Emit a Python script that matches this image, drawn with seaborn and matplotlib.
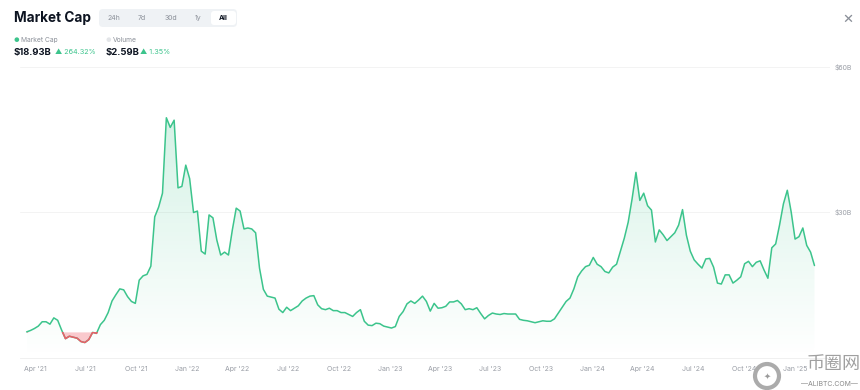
import seaborn as sns
import matplotlib.pyplot as plt
import matplotlib.dates as mdates
import numpy as np
import pandas as pd
from matplotlib.patches import FancyBboxPatch, Rectangle, PathPatch
from matplotlib.transforms import IdentityTransform

# Dados: market cap semanal (bilhões de USD)
inicio = "2021-03-17"
mcap = np.array([
    5.2, 5.5, 5.9, 6.4, 7.3, 7.3, 6.8, 8.1, 7.6, 5.6,
    3.8, 4.3, 4.1, 3.9, 3.2, 3.0, 3.6, 5.1, 4.9, 6.7,
    7.6, 9.2, 11.6, 12.9, 14.1, 13.9, 12.5, 11.5, 11.1, 15.9,
    16.8, 17.1, 18.8, 29.0, 31.0, 33.9, 49.5, 47.5, 49.0, 35.0,
    35.3, 39.7, 36.9, 29.9, 30.2, 21.9, 21.3, 29.4, 28.8, 24.2,
    21.1, 21.7, 21.1, 26.3, 30.8, 30.2, 26.5, 26.7, 26.5, 25.7,
    18.4, 14.0, 12.6, 12.4, 12.2, 9.9, 9.2, 10.3, 9.6, 10.1,
    10.6, 11.6, 12.2, 12.6, 12.7, 10.8, 10.0, 9.8, 10.1, 9.6,
    9.6, 9.2, 9.2, 8.8, 8.4, 9.2, 9.8, 7.4, 6.6, 6.5,
    7.0, 6.9, 6.4, 6.2, 6.0, 6.3, 8.4, 9.4, 11.0, 11.6,
    11.1, 11.8, 12.6, 11.5, 9.5, 11.1, 10.1, 10.2, 10.5, 11.4,
    11.4, 11.7, 11.0, 9.8, 10.0, 9.8, 10.2, 9.0, 7.9, 8.6,
    9.1, 8.9, 8.8, 9.0, 8.9, 8.9, 8.9, 7.8, 7.6, 7.5,
    7.3, 7.1, 7.3, 7.5, 7.4, 7.4, 7.9, 9.1, 10.3, 11.5,
    12.2, 14.1, 16.6, 17.8, 18.7, 19.0, 20.6, 19.2, 18.7, 17.7,
    17.4, 18.6, 19.2, 21.9, 24.6, 27.9, 32.7, 38.2, 32.4, 33.9,
    31.3, 30.4, 23.8, 26.3, 25.3, 24.1, 24.9, 25.7, 27.3, 30.5,
    25.2, 21.9, 20.1, 19.2, 18.4, 20.3, 20.4, 18.6, 15.3, 15.1,
    17.0, 17.0, 15.3, 15.9, 16.6, 19.3, 19.8, 18.7, 19.6, 19.9,
    18.0, 16.3, 22.6, 23.4, 27.3, 31.7, 34.5, 30.0, 24.4, 24.9,
    26.7, 23.1, 21.7, 18.93,
])
datas = pd.date_range(inicio, periods=len(mcap), freq="7D")

abas = ["24h", "7d", "30d", "1y", "All"]
abas_x = [114, 142, 171, 198, 223]
datas_ticks = pd.date_range("2021-04-01", "2025-01-01", freq="QS")
rotulos_ticks = [d.strftime("%b '%y") for d in datas_ticks]
y_ticks = [30, 60]
y_rotulos = ["$30B", "$60B"]

verde = "#3cc48c"
vermelho = "#ee5c66"
cinza = "#9a9ea6"

sns.set_style("white")
plt.rcParams['font.family'] = ['Inter', 'DejaVu Sans']

W, H = 860, 390
fig = plt.figure(figsize=(W / 100, H / 100), dpi=100)


def fx(px):
    return px / W


def fy(py):
    return 1 - py / H


ax = fig.add_axes([fx(20), fy(358), (830 - 20) / W, (358 - 60) / H])

# linha principal
base = mcap[0]
sns.lineplot(x=datas, y=mcap, color=verde, linewidth=1.1, ax=ax, zorder=4)

# área em gradiente verde
xn = mdates.date2num(datas)
poly = ax.fill_between(xn, mcap, 0, color="none", linewidth=0)
mascara = PathPatch(poly.get_paths()[0], transform=ax.transData,
                    facecolor="none", edgecolor="none")
ax.add_patch(mascara)
grad = np.zeros((256, 1, 4))
grad[..., 0], grad[..., 1], grad[..., 2] = 0.24, 0.77, 0.55
grad[:, 0, 3] = np.linspace(0.22, 0.0, 256)
im = ax.imshow(grad, extent=[xn[0], xn[-1], 0, 50], aspect="auto",
               origin="upper", zorder=2)
im.set_clip_path(mascara)

# trecho abaixo do valor inicial em vermelho
ax.fill_between(xn, mcap, base, where=mcap < base, interpolate=True,
                color="#fac9cd", linewidth=0, zorder=3)
linha_red = ax.plot(xn, mcap, color=vermelho, linewidth=1.1, zorder=5)[0]
clip = Rectangle((xn[0], -5), xn[-1] - xn[0], base + 5,
                 transform=ax.transData)
linha_red.set_clip_path(clip)

# grade e eixos
for v in y_ticks:
    ax.axhline(v, color="#f1f1f1", linewidth=0.6, zorder=0)
ax.set_ylim(-0.2, 61.45)
ax.set_xlim(pd.Timestamp("2021-03-05"), pd.Timestamp("2025-03-05"))
ax.set_xticks(datas_ticks)
ax.set_xticklabels(rotulos_ticks)
ax.set_yticks(y_ticks)
ax.set_yticklabels(y_rotulos)
ax.yaxis.tick_right()
ax.tick_params(axis="x", length=0, labelsize=5, colors=cinza, pad=6)
ax.tick_params(axis="y", length=0, labelsize=5, colors=cinza, pad=3)
ax.set_xlabel("")
ax.set_ylabel("")
for s in ["top", "left", "right"]:
    ax.spines[s].set_visible(False)
ax.spines["bottom"].set_color("#eeeeee")
ax.spines["bottom"].set_linewidth(0.6)

# cabeçalho
fig.text(fx(14), fy(18), "Market Cap", fontsize=9.8, fontweight="bold",
         color="#0d1421", va="center", ha="left")
fig.add_artist(FancyBboxPatch((99, H - 27), 138, 18,
                              boxstyle="round,pad=0,rounding_size=4",
                              transform=IdentityTransform(),
                              facecolor="#eff2f5", edgecolor="none"))
fig.add_artist(FancyBboxPatch((211, H - 25), 25, 14,
                              boxstyle="round,pad=0,rounding_size=3",
                              transform=IdentityTransform(),
                              facecolor="white", edgecolor="none"))
for aba, x in zip(abas, abas_x):
    destaque = aba == "All"
    fig.text(fx(x), fy(18), aba, fontsize=5, ha="center", va="center",
             color="#0d1421" if destaque else "#8a8f98",
             fontweight="bold" if destaque else "normal")
fig.text(fx(848), fy(18), "\u00d7", fontsize=12, color="#8a8f98",
         ha="center", va="center")

# legenda / valores
fig.text(fx(16), fy(40), "\u25cf", fontsize=4.5, color=verde, ha="center", va="center")
fig.text(fx(21), fy(40), "Market Cap", fontsize=4.8, color="#8a8f98", va="center")
fig.text(fx(108), fy(40), "\u25cf", fontsize=4.5, color="#e3e5e8", ha="center", va="center")
fig.text(fx(113), fy(40), "Volume", fontsize=4.8, color="#8a8f98", va="center")
fig.text(fx(14), fy(52), "$18.93B", fontsize=6.8, fontweight="bold",
         color="#0d1421", va="center")
fig.text(fx(55), fy(52), "\u25b2 264.32%", fontsize=5.2, color=verde, va="center")
fig.text(fx(106), fy(52), "$2.59B", fontsize=6.8, fontweight="bold",
         color="#0d1421", va="center")
fig.text(fx(140), fy(52), "\u25b2 1.35%", fontsize=5.2, color=verde, va="center")

# marca d'água
fig.add_artist(plt.Circle((767, H - 376), 12, transform=IdentityTransform(),
                          fill=False, edgecolor="#ababab", linewidth=3))
fig.text(fx(767), fy(376), "\u2726", fontsize=6, color="#9a9a9a",
         ha="center", va="center")
fig.text(fx(834), fy(364), "币圈网", fontsize=13, color="#a0a0a0",
         ha="center", va="center", family=["Noto Sans CJK SC", "DejaVu Sans"])
fig.text(fx(829), fy(384), "\u2014ALIBTC.COM\u2014", fontsize=5, color="#8a8a8a",
         ha="center", va="center")

fig.savefig("out.png", dpi=100)
